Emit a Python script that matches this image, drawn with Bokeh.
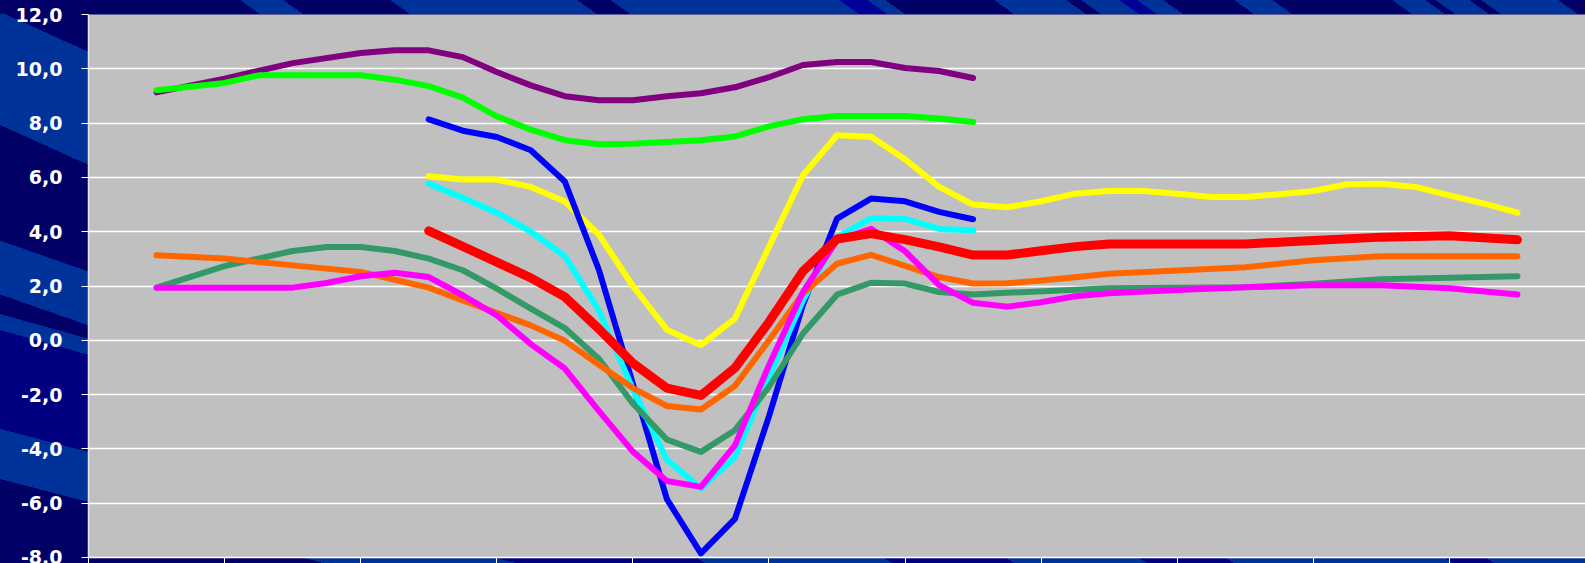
import math

from bokeh.embed import file_html
from bokeh.models import FixedTicker, Range1d
from bokeh.plotting import figure
from bokeh.resources import INLINE

N = None

# Sample positions in category units (category k spans k..k+1), quarter steps
X = [0.5, 0.75, 1.0, 1.25, 1.5, 1.75, 2.0, 2.25, 2.5, 2.75,
     3.0, 3.25, 3.5, 3.75, 4.0, 4.25, 4.5, 4.75, 5.0, 5.25,
     5.5, 5.75, 6.0, 6.25, 6.5, 6.75, 7.0, 7.25, 7.5, 7.75,
     8.0, 8.25, 8.5, 8.75, 9.0, 9.25, 9.5, 9.75, 10.0, 10.25, 10.5]

CATEGORY_EDGES = [0, 1, 2, 3, 4, 5, 6, 7, 8, 9, 10, 11]

Y_TICKS = [-8, -6, -4, -2, 0, 2, 4, 6, 8, 10, 12]
Y_TICK_LABELS = ["-8,0", "-6,0", "-4,0", "-2,0", "0,0", "2,0", "4,0",
                 "6,0", "8,0", "10,0", "12,0"]

PURPLE = [9.13, N, 9.64, N, 10.21, N, 10.58, 10.68, 10.68, 10.43,
          9.88, 9.39, 8.99, 8.84, 8.84, 8.99, 9.10, 9.32, 9.69, 10.14,
          10.25, 10.25, 10.03, 9.92, 9.66, N, N, N, N, N,
          N, N, N, N, N, N, N, N, N, N, N]

LIME = [9.21, N, 9.48, 9.76, 9.76, N, 9.76, 9.60, 9.36, 8.94,
        8.25, 7.76, 7.37, 7.22, 7.24, 7.30, 7.37, 7.51, 7.88, 8.14,
        8.26, 8.26, 8.26, 8.17, 8.04, N, N, N, N, N,
        N, N, N, N, N, N, N, N, N, N, N]

YELLOW = [N, N, N, N, N, N, N, N, 6.04, 5.92,
          5.92, 5.65, 5.11, 3.89, 2.00, 0.39, -0.18, 0.80, 3.44, 6.08,
          7.55, 7.50, 6.67, 5.65, 5.00, 4.90, 5.12, 5.40, 5.50, 5.50,
          5.40, 5.28, 5.28, 5.38, 5.50, 5.75, 5.77, 5.65, 5.34, 5.04, 4.70]

BLUE = [N, N, N, N, N, N, N, N, 8.14, 7.72,
        7.49, 7.00, 5.85, 2.60, -1.60, -5.85, -7.85, -6.58, -2.80, 1.31,
        4.48, 5.22, 5.12, 4.73, 4.46, N, N, N, N, N,
        N, N, N, N, N, N, N, N, N, N, N]

CYAN = [N, N, N, N, N, N, N, N, 5.77, 5.25,
        4.70, 4.00, 3.10, 1.10, -1.80, -4.40, -5.45, -4.30, -1.35, 1.47,
        3.80, 4.50, 4.47, 4.10, 4.05, N, N, N, N, N,
        N, N, N, N, N, N, N, N, N, N, N]

SEAGREEN = [1.94, N, 2.73, N, 3.29, 3.44, 3.44, 3.29, 3.01, 2.58,
            1.90, 1.17, 0.45, -0.68, -2.33, -3.66, -4.11, -3.31, -1.72, 0.25,
            1.68, 2.12, 2.09, 1.78, 1.69, 1.75, N, N, 1.92, N,
            N, N, 1.95, N, 2.08, N, 2.25, N, N, N, 2.36]

ORANGE = [3.13, N, 3.01, N, 2.76, N, 2.52, 2.23, 1.94, 1.47,
          1.01, 0.55, -0.02, -0.90, -1.76, -2.42, -2.55, -1.68, 0.00, 1.72,
          2.82, 3.15, 2.74, 2.33, 2.09, 2.10, 2.20, 2.32, 2.45, N,
          2.57, N, 2.69, N, 2.95, N, 3.10, N, 3.10, N, 3.10]

MAGENTA = [1.94, N, 1.94, N, 1.94, 2.11, 2.36, 2.49, 2.33, 1.66,
           0.92, -0.14, -1.04, -2.60, -4.10, -5.18, -5.40, -3.87, -0.92, 1.78,
           3.68, 4.11, 3.28, 2.03, 1.38, 1.24, 1.40, 1.62, 1.73, N,
           1.85, N, 1.95, N, 2.03, N, 2.03, N, 1.92, N, 1.69]

RED = [N, N, N, N, N, N, N, N, 4.03, 3.46,
       2.88, 2.30, 1.60, 0.42, -0.84, -1.76, -2.03, -1.02, 0.67, 2.54,
       3.73, 3.93, 3.71, 3.44, 3.14, 3.14, 3.30, 3.45, 3.55, N,
       3.55, N, 3.55, N, 3.68, N, 3.80, N, 3.85, N, 3.70]

SERIES = [
    (PURPLE, "#800080", 6),
    (LIME, "#00FF00", 6),
    (YELLOW, "#FFFF00", 6),
    (BLUE, "#0000FF", 6),
    (CYAN, "#00FFFF", 6),
    (SEAGREEN, "#339966", 6),
    (ORANGE, "#FF6600", 6),
    (MAGENTA, "#FF00FF", 6),
    (RED, "#FF0000", 9),
]

W, H = 1585, 563
FRAME_LEFT, FRAME_TOP, FRAME_BOTTOM = 88, 14, 6

p = figure(
    width=W, height=H,
    x_range=Range1d(0, 11), y_range=Range1d(-8, 12),
    output_backend="svg", toolbar_location=None,
    min_border_left=FRAME_LEFT, min_border_right=0,
    min_border_top=FRAME_TOP, min_border_bottom=FRAME_BOTTOM,
    background_fill_color="#C0C0C0",
    border_fill_color=None,
    outline_line_color=None,
)

# horizontal grid only
p.xgrid.grid_line_color = None
p.ygrid.grid_line_color = "white"
p.ygrid.grid_line_width = 1.5
p.ygrid.ticker = FixedTicker(ticks=Y_TICKS)

# value axis
p.yaxis.ticker = FixedTicker(ticks=Y_TICKS)
p.yaxis.major_label_overrides = dict(zip(Y_TICKS, Y_TICK_LABELS))
p.yaxis.major_label_text_font = "DejaVu Sans"
p.yaxis.major_label_text_font_style = "bold"
p.yaxis.major_label_text_font_size = "19px"
p.yaxis.major_label_text_color = "white"
p.yaxis.major_label_standoff = 19
p.yaxis.major_tick_out = 7
p.yaxis.major_tick_in = 0
p.yaxis.major_tick_line_color = "white"
p.yaxis.minor_tick_line_color = None
p.yaxis.axis_line_color = "#E6E6E6"
p.yaxis.axis_line_width = 1.5

# category axis: tick marks between categories only
p.xaxis.ticker = FixedTicker(ticks=CATEGORY_EDGES)
p.xaxis.major_label_overrides = {t: "" for t in CATEGORY_EDGES}
p.xaxis.major_label_standoff = 0
p.xaxis.major_tick_out = 6
p.xaxis.major_tick_in = 0
p.xaxis.major_tick_line_color = "white"
p.xaxis.minor_tick_line_color = None
p.xaxis.axis_line_color = "white"
p.xaxis.axis_line_width = 1.5

for values, color, width in SERIES:
    xs = [x for x, v in zip(X, values) if v is not None]
    ys = [v for v in values if v is not None]
    p.line(xs, ys, line_color=color, line_width=width,
           line_cap="round", line_join="round")


# ---- striped blue slide background behind the chart (CSS) ----
DARK, MID, NAVY, LIGHT = "#000066", "#000080", "#000099", "#003399"


def band(y_top, y_bot, slope, color):
    """A straight band crossing the left margin, edges given at x=0."""
    ang = math.degrees(math.atan(slope))
    c = math.cos(math.radians(ang))
    p_top = (H - y_top) * c
    p_bot = (H - y_bot) * c
    return (f"linear-gradient({ang:.2f}deg, transparent {p_bot:.1f}px, "
            f"{color} {p_bot:.1f}px, {color} {p_top:.1f}px, "
            f"transparent {p_top:.1f}px)")


def strip(segments, h, ang=35.0):
    """Slanted stripes across a thin strip; segments are (x_end, color)."""
    s, c = math.sin(math.radians(ang)), math.cos(math.radians(ang))
    stops, start = [], 0.0
    for x_end, color in segments:
        end = x_end * s + (h / 2) * c
        stops.append(f"{color} {start:.1f}px, {color} {end:.1f}px")
        start = end
    return f"linear-gradient({ang}deg, " + ", ".join(stops) + ")"


top_segments = [
    (250, DARK), (293, LIGHT), (400, DARK), (587, LIGHT), (620, DARK),
    (849, LIGHT), (877, NAVY), (895, LIGHT), (1004, DARK), (1076, LIGHT),
    (1091, DARK), (1129, LIGHT), (1147, NAVY), (1173, LIGHT), (1244, DARK),
    (1282, LIGHT), (1402, DARK), (1435, LIGHT), (1445, DARK), (1479, LIGHT),
    (1491, DARK), (1568, LIGHT), (1700, DARK),
]
bottom_segments = [
    (700, "transparent"), (887, LIGHT), (1009, MID), (1142, LIGHT),
    (1229, MID), (1448, LIGHT), (1489, MID), (1700, LIGHT),
]

layers = [
    (strip(top_segments, FRAME_TOP), f"100% {FRAME_TOP}px", "left top"),
    (strip(bottom_segments, FRAME_BOTTOM), f"100% {FRAME_BOTTOM}px", "left bottom"),
    (band(12, 125, 0.45, LIGHT), "100% 100%", "left top"),
    (band(240.6, 294.4, 0.35, LIGHT), "100% 100%", "left top"),
    (band(314, 330, 0.28, LIGHT), "100% 100%", "left top"),
    (band(429, 479, 0.26, LIGHT), "100% 100%", "left top"),
    (band(330, 429, 0.27, MID), "100% 100%", "left top"),
]

p.styles = {
    "background-color": DARK,
    "background-image": ", ".join(l[0] for l in layers),
    "background-size": ", ".join(l[1] for l in layers),
    "background-position": ", ".join(l[2] for l in layers),
    "background-repeat": "no-repeat",
}

open("out.html", "w").write(file_html(p, INLINE))
